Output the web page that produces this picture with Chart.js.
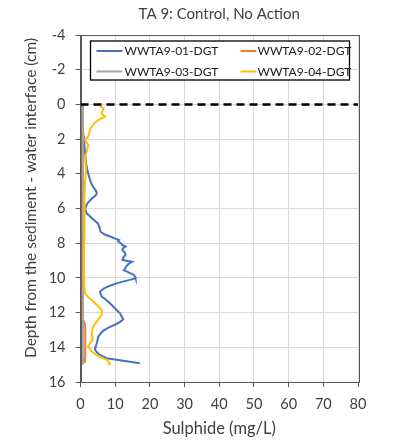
<!DOCTYPE html>
<html><head><meta charset="utf-8">
<script src="https://cdn.jsdelivr.net/npm/chart.js@4/dist/chart.umd.min.js"></script>
<style>html,body{margin:0;padding:0;background:#fff}#wrap{width:393px;height:441px}</style>
</head><body><div id="wrap"><canvas id="c" width="393" height="441"></canvas></div>
<script>
const chartTitle = "TA 9: Control, No Action";
const xTitle = "Sulphide (mg/L)";
const yTitle = "Depth from the sediment - water interface (cm)";
const seriesNames = ["WWTA9-01-DGT", "WWTA9-02-DGT", "WWTA9-03-DGT", "WWTA9-04-DGT"];
const seriesColors = ["#4472C4", "#ED7D31", "#A5A5A5", "#FFC000"];
const xTicks = [0, 10, 20, 30, 40, 50, 60, 70, 80];
const yTicks = [-4, -2, 0, 2, 4, 6, 8, 10, 12, 14, 16];

const depth01 = [0,0.5,1,1.5,2,2.5,3,3.4,3.8,4.2,4.5,4.75,4.95,5.1,5.25,5.4,5.7,6.0,6.28,6.57,6.86,7.1,7.34,7.5,7.63,7.75,7.82,7.9,8.0,8.1,8.2,8.3,8.4,8.55,8.68,8.8,8.97,9.07,9.15,9.26,9.4,9.55,9.7,9.83,9.95,10.02,10.1,10.2,10.3,10.45,10.6,10.8,11.08,11.2,11.37,11.5,11.66,11.85,12.04,12.2,12.4,12.55,12.7,12.85,13.04,13.2,13.4,13.6,13.77,13.95,14.15,14.3,14.44,14.63,14.77,14.92];
const sulph01 = [0.4,0.5,0.6,0.7,1.0,1.2,1.4,1.6,2.0,2.5,3.0,3.6,4.4,4.7,4.4,3.4,2.0,1.3,1.8,3.4,5.0,5.5,5.8,7.0,8.7,10.2,11.1,10.8,11.6,12.0,13.0,12.2,12.1,12.8,13.0,12.4,12.1,14.9,14.2,13.5,13.0,12.5,14.0,15.4,15.8,15.9,14.5,12.5,10.6,8.5,6.8,5.6,6.1,7.0,8.0,8.7,9.5,10.4,11.4,11.8,12.3,11.3,9.9,8.2,6.6,5.8,5.1,4.9,4.7,4.4,4.2,4.8,5.6,7.5,12.3,17.1];

const depth02 = [0,2,4,6,8,10,12,12.4,12.6,12.9,13.3,13.7,14.1,14.5,14.9];
const sulph02 = [0.6,0.6,0.6,0.6,0.6,0.6,0.6,0.7,1.2,1.4,1.3,1.5,1.3,1.4,1.2];

const depth03 = [0,2,4,6,8,10,12,14,15];
const sulph03 = [0.7,0.7,0.7,0.7,0.7,0.7,0.7,0.7,0.7];

const depth04 = [0.04,0.23,0.52,0.71,0.9,1.1,1.38,1.86,2.05,2.34,2.73,3.0,3.8,4.5,5.5,6.5,7.5,8.5,9.5,10.5,10.9,11.1,11.27,11.56,11.85,12.14,12.4,12.8,13.2,13.58,13.77,13.96,14.25,14.5,14.73,14.85,14.96,15.0];
const sulph04 = [5.4,6.6,6.1,7.1,5.1,3.9,2.9,2.2,1.3,2.2,1.8,1.3,1.6,1.3,1.1,1.2,1.1,1.0,1.0,1.1,1.3,2.2,3.2,4.7,6.1,6.1,5.1,3.7,3.2,3.5,2.7,2.2,3.2,5.1,7.5,8.2,8.5,7.9];

const interfaceX = [0, 80];
const interfaceDepth = [0, 0];

const pts = (xs, ys) => xs.map((v, i) => ({x: v, y: ys[i]}));
const series = [[sulph01, depth01], [sulph02, depth02], [sulph03, depth03], [sulph04, depth04]];

const FONT = "Lato, 'Liberation Sans', sans-serif";

const datasets = series.map((s, i) => ({
  label: seriesNames[i],
  data: pts(s[0], s[1]),
  showLine: true,
  borderColor: seriesColors[i],
  backgroundColor: seriesColors[i],
  borderWidth: 2,
  pointRadius: 0,
  tension: 0,
  order: 4 - i
}));
datasets.push({
  label: "interface",
  data: pts(interfaceX, interfaceDepth),
  showLine: true,
  borderColor: "#000",
  borderWidth: 2.5,
  borderDash: [8, 5],
  pointRadius: 0,
  order: 0
});

const framePlugin = {
  id: 'frame',
  beforeDatasetsDraw(chart) {
    const {ctx, chartArea: a} = chart;
    ctx.save();
    ctx.strokeStyle = '#595959';
    ctx.lineWidth = 1;
    ctx.strokeRect(Math.round(a.left) + 0.5, Math.round(a.top) + 0.5, Math.round(a.right - a.left), Math.round(a.bottom - a.top));
    ctx.restore();
  }
};

const titlePlugin = {
  id: 'ctitle',
  afterDraw(chart) {
    const {ctx, chartArea: a} = chart;
    ctx.save();
    ctx.font = "15px " + FONT;
    ctx.fillStyle = '#404040';
    ctx.textAlign = 'center';
    ctx.textBaseline = 'middle';
    ctx.fillText(chartTitle, (a.left + a.right) / 2, 14);
    ctx.font = "15.5px " + FONT;
    ctx.translate(31, 198);
    ctx.rotate(-Math.PI / 2);
    ctx.fillText(yTitle, 0, 0);
    ctx.restore();
  }
};

const legendPlugin = {
  id: 'boxLegend',
  afterDraw(chart) {
    const {ctx, chartArea: a} = chart;
    const x0 = a.left + 10, y0 = a.top + 6, w = 259, h = 39;
    ctx.save();
    ctx.fillStyle = '#fff';
    ctx.fillRect(x0, y0, w, h);
    ctx.strokeStyle = '#000';
    ctx.lineWidth = 1.3;
    ctx.strokeRect(x0, y0, w, h);
    const cols = [[x0 + 6, x0 + 32, x0 + 34], [x0 + 150, x0 + 166, x0 + 167]];
    const rows = [y0 + 10, y0 + 30.5];
    ctx.font = "12px " + FONT;
    ctx.textBaseline = 'middle';
    ctx.textAlign = 'left';
    for (let i = 0; i < 4; i++) {
      const c = cols[i % 2], r = rows[Math.floor(i / 2)];
      ctx.strokeStyle = seriesColors[i];
      ctx.lineWidth = 2;
      ctx.beginPath(); ctx.moveTo(c[0], r); ctx.lineTo(c[1], r); ctx.stroke();
      ctx.fillStyle = '#1a1a1a';
      ctx.fillText(seriesNames[i], c[2], r + 0.5);
    }
    ctx.restore();
  }
};

new Chart(document.getElementById('c'), {
  type: 'scatter',
  data: {datasets},
  options: {
    responsive: false,
    animation: false,
    layout: {padding: {top: 35, right: 35, left: 0, bottom: 0}},
    plugins: {legend: {display: false}, tooltip: {enabled: false}, title: {display: false}},
    scales: {
      x: {
        type: 'linear', min: 0, max: 80,
        afterBuildTicks: s => { s.ticks = xTicks.map(v => ({value: v})); },
        afterFit: s => { s.height = 59; },
        grid: {color: '#d9d9d9', tickColor: '#595959', tickLength: 5},
        border: {color: '#595959', width: 1},
        ticks: {font: {family: FONT, size: 14.5}, color: '#404040', padding: 9, maxRotation: 0},
        title: {display: true, text: xTitle, font: {family: FONT, size: 16.5}, color: '#404040', padding: {top: 0, bottom: 2}}
      },
      y: {
        type: 'linear', min: -4, max: 16, reverse: true,
        afterBuildTicks: s => { s.ticks = yTicks.map(v => ({value: v})); },
        afterFit: s => { s.width = 80.5; },
        grid: {color: '#d9d9d9', tickColor: '#595959', tickLength: 5},
        border: {color: '#595959', width: 1},
        ticks: {font: {family: FONT, size: 14.5}, color: '#404040', padding: 10},
        title: {display: false}
      }
    }
  },
  plugins: [framePlugin, titlePlugin, legendPlugin]
});
</script>
</body></html>
